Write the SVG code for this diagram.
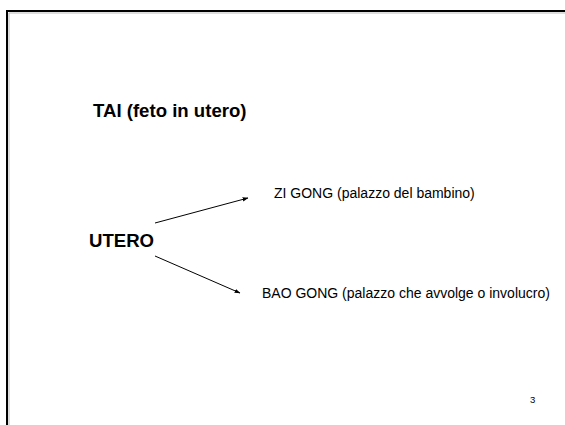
<svg xmlns="http://www.w3.org/2000/svg" width="565" height="425" viewBox="0 0 565 425">
<style>
.t{font-family:"Liberation Sans",Arial,sans-serif;fill:#000}
.b{font-weight:bold;font-size:18.6px}
.r{font-size:14px}
.c{stroke:#000;stroke-width:1;fill:none}
</style>
<defs>
<marker id="ah" viewBox="0 0 10 10" refX="9" refY="5" markerWidth="6" markerHeight="6" orient="auto" markerUnits="userSpaceOnUse">
<path d="M0,1.5 L10,5 L0,8.5 Z" fill="#000"/>
</marker>
</defs>
<rect width="565" height="425" fill="#fff"/>
<rect x="7" y="11" width="570" height="430" fill="none" stroke="#000" stroke-width="2"/>
<line x1="9" y1="13" x2="9" y2="425" stroke="#bbb" stroke-width="1"/>
<line x1="9" y1="13" x2="565" y2="13" stroke="#bbb" stroke-width="1"/>
<g id="title"><text class="t b" x="93" y="116.5">TAI (feto in utero)</text></g>
<g id="utero"><text class="t b" x="89" y="247">UTERO</text></g>
<g id="zigong"><text class="t r" x="274" y="198.3">ZI GONG (palazzo del bambino)</text></g>
<g id="baogong"><text class="t r" x="262" y="298">BAO GONG (palazzo che avvolge o involucro)</text></g>
<g id="connectors">
<line class="c" x1="155" y1="223" x2="248" y2="198" marker-end="url(#ah)"/>
<line class="c" x1="155" y1="256" x2="240" y2="293" marker-end="url(#ah)"/>
</g>
<text class="t" x="530" y="403" font-size="9.5">3</text>
</svg>
